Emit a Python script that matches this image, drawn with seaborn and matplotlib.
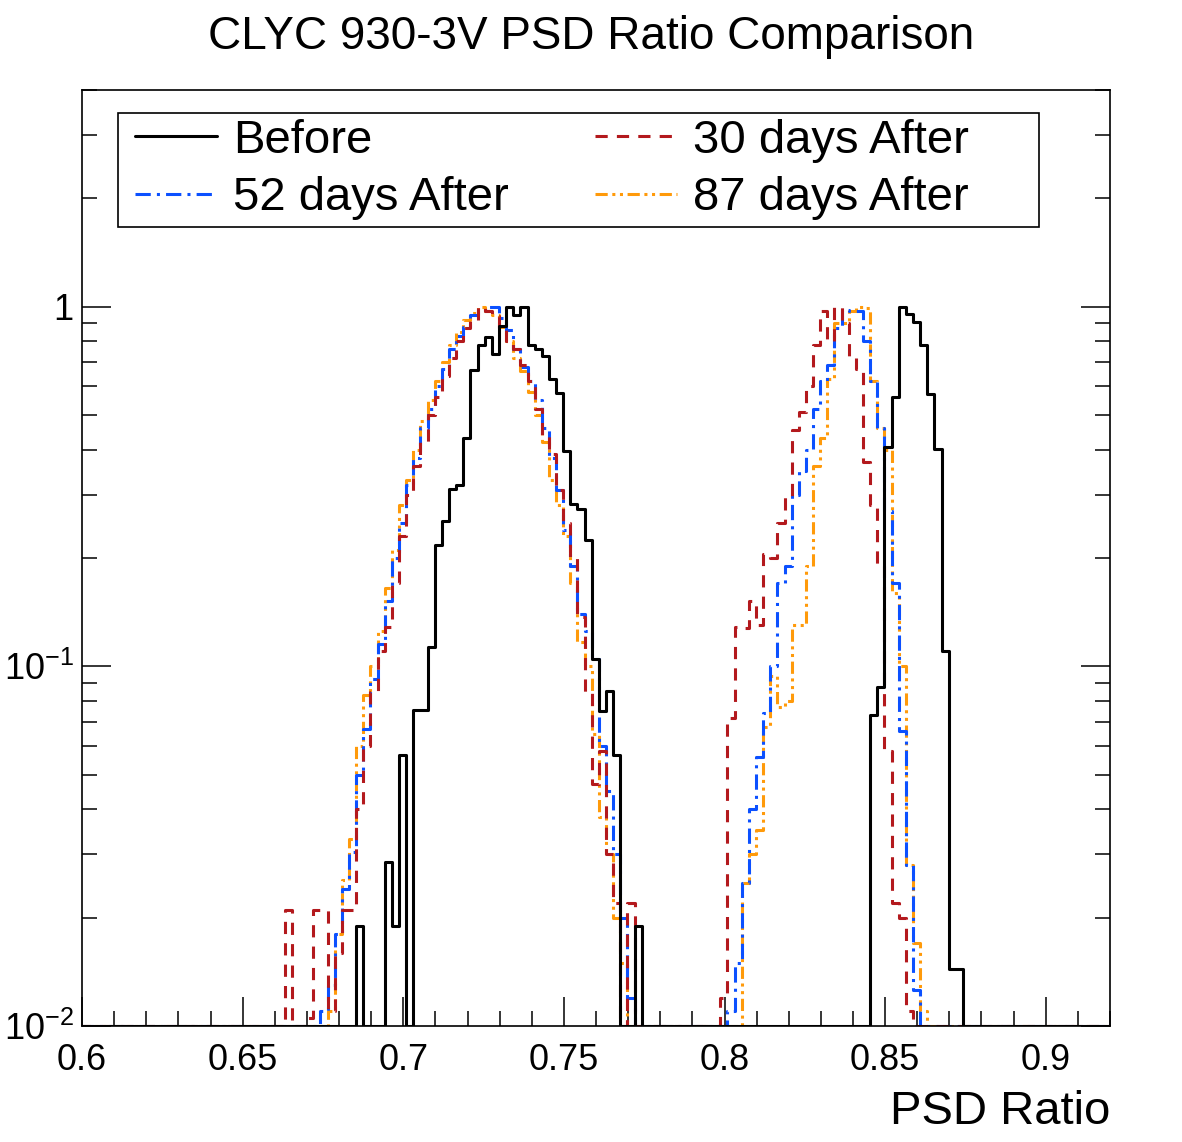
import numpy as np
import pandas as pd
import matplotlib
matplotlib.use("Agg")
import matplotlib.pyplot as plt
from matplotlib.lines import Line2D
from matplotlib.patches import Rectangle
from matplotlib.ticker import MultipleLocator, LogLocator, FuncFormatter, NullFormatter
import seaborn as sns

sns.set_theme(style="ticks")
plt.rcParams['font.family'] = ['Liberation Sans', 'DejaVu Sans']
plt.rcParams['mathtext.fontset'] = 'custom'
plt.rcParams['mathtext.rm'] = 'Liberation Sans'
plt.rcParams['mathtext.it'] = 'Liberation Sans:italic'
for key in ['text.color', 'axes.labelcolor', 'xtick.color', 'ytick.color', 'axes.edgecolor']:
    plt.rcParams[key] = 'black'

# Histogram binning: 1/450 wide bins (origin shifted by bin_offset), axis 0.6 - 0.92
bin_lo, bin_hi, nbin_per_unit, bin_offset = 269, 414, 450, 0.0009

# Peak contents (normalised to max = 1), each list starts at the given bin index
before_p1_start = 308
before_p1 = [0.019, 0, 0, 0, 0.0285, 0.019, 0.0566, 0, 0.0755, 0.0755, 0.113,
             0.218, 0.254, 0.312, 0.320, 0.432, 0.665, 0.781, 0.822, 0.739, 0.885,
             1.0, 0.95, 1.0, 0.784, 0.76, 0.728, 0.627, 0.575, 0.397, 0.282, 0.273,
             0.225, 0.105, 0.075, 0.0854, 0.0566, 0, 0, 0.019]
before_p2_start = 380
before_p2 = [0.073, 0.0875, 0.407, 0.561, 1.0, 0.956, 0.905, 0.784, 0.570, 0.401,
             0.110, 0.0144, 0.0144]

d30_p1_start = 298
d30_p1 = [0.021, 0, 0, 0.0105, 0.021, 0.021, 0.011, 0.016, 0.021, 0.021, 0.04,
          0.06, 0.085, 0.11, 0.129, 0.17, 0.23, 0.30, 0.36, 0.42, 0.50, 0.56, 0.64,
          0.72, 0.80, 0.87, 0.92, 1.0, 0.97, 0.94, 0.86, 0.80, 0.76, 0.69, 0.62,
          0.52, 0.44, 0.39, 0.31, 0.25, 0.20, 0.137, 0.085, 0.047, 0.058, 0.03,
          0.022, 0, 0.022, 0.01]
d30_p2_start = 359
d30_p2 = [0.012, 0.072, 0.129, 0.128, 0.152, 0.13, 0.205, 0.2, 0.25, 0.295, 0.455,
          0.51, 0.6, 0.78, 0.97, 0.8, 1.0, 0.9, 0.73, 0.67, 0.37, 0.28, 0.19,
          0.058, 0.022, 0.02, 0.011]

d52_p1_start = 303
d52_p1 = [0.011, 0.013, 0.018, 0.024, 0.0305, 0.05, 0.067, 0.092, 0.115, 0.152,
          0.2, 0.25, 0.32, 0.38, 0.46, 0.52, 0.6, 0.67, 0.76, 0.83, 0.88, 0.95,
          0.97, 1.0, 1.0, 0.93, 0.86, 0.76, 0.68, 0.62, 0.55, 0.46, 0.38, 0.31,
          0.24, 0.19, 0.14, 0.125, 0.105, 0.06, 0.045, 0.03, 0.02, 0.012]
d52_p2_start = 360
d52_p2 = [0.011, 0.015, 0.025, 0.04, 0.056, 0.074, 0.1, 0.17, 0.19, 0.3, 0.35,
          0.4, 0.52, 0.62, 0.69, 0.87, 0.98, 0.97, 0.97, 0.8, 0.62, 0.46, 0.27,
          0.17, 0.066, 0.028, 0.0126]

d87_p1_start = 304
d87_p1 = [0.011, 0.018, 0.0255, 0.033, 0.06, 0.083, 0.1, 0.125, 0.165, 0.21, 0.28,
          0.33, 0.40, 0.48, 0.55, 0.62, 0.70, 0.78, 0.85, 0.92, 0.96, 1.0, 0.97,
          0.95, 0.88, 0.80, 0.72, 0.66, 0.58, 0.50, 0.42, 0.33, 0.28, 0.23, 0.17,
          0.117, 0.1, 0.065, 0.038, 0.03, 0.02, 0.015]
d87_p2_start = 362
d87_p2 = [0.025, 0.03, 0.035, 0.068, 0.094, 0.077, 0.08, 0.13, 0.13, 0.19, 0.36,
          0.43, 0.63, 0.9, 0.9, 0.97, 1.0, 0.99, 0.62, 0.46, 0.4, 0.16, 0.1,
          0.028, 0.017, 0.011]

labels = ['Before', '30 days After', '52 days After', '87 days After']
colors = ['black', '#b3191d', '#0b50ff', '#ff9a0a']
styles = ['-', (0, (4, 3)), (0, (5, 2, 1, 2)), (0, (4, 1.5, 1, 1.5, 1, 1.5))]

peaks = {
    'Before': [(before_p1_start, before_p1), (before_p2_start, before_p2)],
    '30 days After': [(d30_p1_start, d30_p1), (d30_p2_start, d30_p2)],
    '52 days After': [(d52_p1_start, d52_p1), (d52_p2_start, d52_p2)],
    '87 days After': [(d87_p1_start, d87_p1), (d87_p2_start, d87_p2)],
}

edges = np.arange(bin_lo, bin_hi + 1) / nbin_per_unit + bin_offset
centers = 0.5 * (edges[:-1] + edges[1:])

fig = plt.figure(figsize=(11.82, 11.42), dpi=100)
ax = fig.add_axes([82 / 1182, 1 - 1026 / 1142, 1028 / 1182, 936 / 1142])

ymin, ymax = 0.01, 4.0

# draw in reverse so Before ends on top
for lab, col, ls in list(zip(labels, colors, styles))[::-1]:
    full = np.zeros(len(centers))
    for start, vals in peaks[lab]:
        full[start - bin_lo:start - bin_lo + len(vals)] = vals
    df = pd.DataFrame({'psd': centers, 'count': np.clip(full, ymin, None)})
    sns.histplot(data=df, x='psd', weights='count', bins=list(edges), element='step',
                 fill=False, color=col, linestyle=ls, linewidth=2.2, ax=ax)

ax.set_yscale('log')
ax.set_xlim(0.6, 0.92)
ax.set_ylim(ymin, ymax)

ax.xaxis.set_major_locator(MultipleLocator(0.05))
ax.xaxis.set_minor_locator(MultipleLocator(0.01))
ax.xaxis.set_major_formatter(FuncFormatter(lambda v, p: f'{v:g}'))
ax.yaxis.set_major_locator(LogLocator(base=10, numticks=10))
ax.yaxis.set_minor_locator(LogLocator(base=10, subs=np.arange(2, 10), numticks=20))
ax.yaxis.set_minor_formatter(NullFormatter())


def ylab(v, p):
    if abs(v - 1) < 1e-9:
        return '1'
    return r'$10^{%d}$' % int(round(np.log10(v)))


ax.yaxis.set_major_formatter(FuncFormatter(ylab))

ax.tick_params(which='both', direction='in', top=False, right=True, width=1.1,
               colors='black', labelsize=26)
ax.tick_params(which='major', length=21)
ax.tick_params(which='minor', length=10.5)
ax.tick_params(axis='x', which='major', pad=12)
ax.tick_params(axis='y', which='major', pad=6)
for sp in ax.spines.values():
    sp.set_linewidth(1.2)
    sp.set_color('black')

ax.set_xlabel('PSD Ratio', loc='right', fontsize=34, labelpad=9, color='black')
ax.set_ylabel('')
fig.text(0.5, 1 - 37 / 1142, 'CLYC 930-3V PSD Ratio Comparison', ha='center',
         va='center', fontsize=33, color='black')

# legend: ROOT-style box drawn as a rectangle, entries row-wise in two columns
box = Rectangle(((118 - 82) / 1028, (1026 - 227) / 936), (1039 - 118) / 1028,
                (227 - 113) / 936, transform=ax.transAxes, fill=True,
                facecolor='white', edgecolor='black', linewidth=1.2, zorder=4)
ax.add_patch(box)

handles = [Line2D([], [], color=c, linestyle=s, linewidth=2.2)
           for c, s in zip(colors, styles)]
order = [0, 2, 1, 3]
leg = ax.legend([handles[i] for i in order], [labels[i] for i in order], ncol=2,
                loc='upper left', bbox_to_anchor=((135 - 82) / 1028, (1026 - 119) / 936),
                fontsize=34, frameon=False, handlelength=1.74,
                handletextpad=0.34, borderpad=0, labelspacing=0.28,
                columnspacing=1.82, borderaxespad=0)
leg.set_zorder(5)
for t in leg.get_texts():
    t.set_color('black')

fig.savefig('out.png', dpi=100)
